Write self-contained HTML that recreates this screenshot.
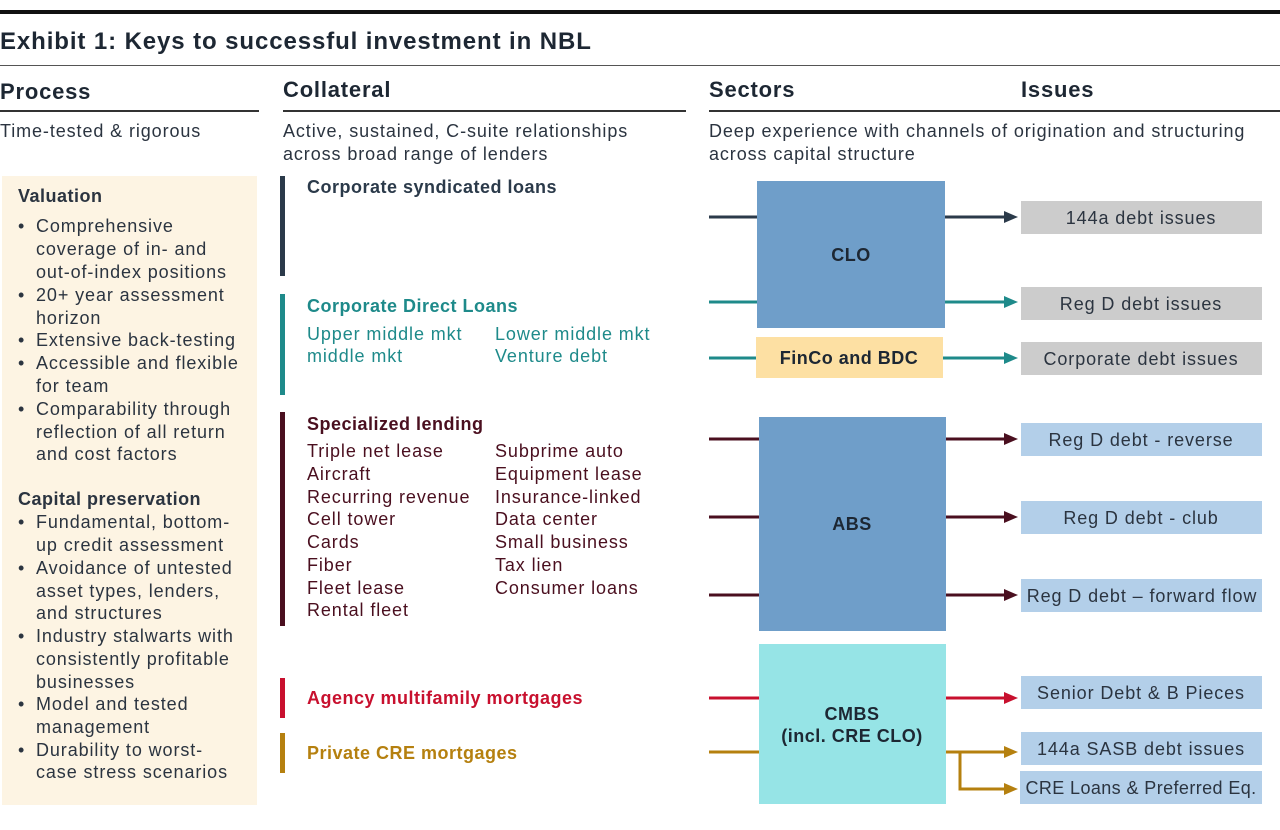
<!DOCTYPE html>
<html><head><meta charset="utf-8"><style>
body{margin:0;background:#fff}
svg{display:block;font-family:"Liberation Sans",sans-serif}
.b{font-weight:bold;letter-spacing:0.5px}
.r{font-size:18px;letter-spacing:0.9px}
</style></head><body>
<svg width="1280" height="830" xmlns="http://www.w3.org/2000/svg">
<rect x="0" y="10" width="1280" height="4" fill="#111"/>
<text x="0" y="49" font-size="24" font-weight="bold" letter-spacing="0.9" fill="#1d2733">Exhibit 1: Keys to successful investment in NBL</text>
<rect x="0" y="65" width="1280" height="1" fill="#555"/>
<g font-size="22" fill="#1d2733" font-weight="bold" letter-spacing="0.8">
<text x="0" y="99">Process</text><text x="283" y="97">Collateral</text><text x="709" y="97">Sectors</text><text x="1021" y="97">Issues</text></g>
<rect x="0" y="110" width="259" height="2" fill="#333"/>
<rect x="283" y="110" width="403" height="2" fill="#333"/>
<rect x="709" y="110" width="571" height="2" fill="#333"/>
<g class="r" fill="#2b3440">
<text x="0" y="137">Time-tested &amp; rigorous</text>
<text x="283" y="137">Active, sustained, C-suite relationships</text>
<text x="283" y="160">across broad range of lenders</text>
<text x="709" y="137">Deep experience with channels of origination and structuring</text>
<text x="709" y="160">across capital structure</text>
</g>
<rect x="2" y="176" width="255" height="629" fill="#fdf4e3"/>
<g class="r" fill="#2b3440">
<text x="18" y="202" class="b" font-size="18">Valuation</text>
<text x="18" y="232">•</text><text x="36" y="232">Comprehensive</text>
<text x="36" y="255">coverage of in- and</text>
<text x="36" y="278">out-of-index positions</text>
<text x="18" y="301">•</text><text x="36" y="301">20+ year assessment</text>
<text x="36" y="324">horizon</text>
<text x="18" y="346">•</text><text x="36" y="346">Extensive back-testing</text>
<text x="18" y="369">•</text><text x="36" y="369">Accessible and flexible</text>
<text x="36" y="392">for team</text>
<text x="18" y="415">•</text><text x="36" y="415">Comparability through</text>
<text x="36" y="438">reflection of all return</text>
<text x="36" y="460">and cost factors</text>
<text x="18" y="505" class="b" font-size="18">Capital preservation</text>
<text x="18" y="528">•</text><text x="36" y="528">Fundamental, bottom-</text>
<text x="36" y="551">up credit assessment</text>
<text x="18" y="574">•</text><text x="36" y="574">Avoidance of untested</text>
<text x="36" y="597">asset types, lenders,</text>
<text x="36" y="619">and structures</text>
<text x="18" y="642">•</text><text x="36" y="642">Industry stalwarts with</text>
<text x="36" y="665">consistently profitable</text>
<text x="36" y="688">businesses</text>
<text x="18" y="710">•</text><text x="36" y="710">Model and tested</text>
<text x="36" y="733">management</text>
<text x="18" y="756">•</text><text x="36" y="756">Durability to worst-</text>
<text x="36" y="778">case stress scenarios</text>
</g>
<rect x="280" y="176" width="5" height="100" fill="#2b3a4a"/>
<rect x="280" y="294" width="5" height="101" fill="#1e8a8a"/>
<rect x="280" y="412" width="5" height="214" fill="#4a0f1f"/>
<rect x="280" y="678" width="5" height="40" fill="#c8102e"/>
<rect x="280" y="733" width="5" height="40" fill="#b5800f"/>
<g class="r">
<text x="307" y="193" class="b" fill="#2b3a4a" font-size="18">Corporate syndicated loans</text>
<text x="307" y="312" class="b" fill="#1e8a8a" font-size="18">Corporate Direct Loans</text>
<g fill="#1e8a8a"><text x="307" y="340">Upper middle mkt</text><text x="495" y="340">Lower middle mkt</text>
<text x="307" y="362">middle mkt</text><text x="495" y="362">Venture debt</text></g>
<text x="307" y="430" class="b" fill="#4a0f1f" font-size="18">Specialized lending</text>
<g fill="#4a0f1f">
<text x="307" y="457">Triple net lease</text><text x="495" y="457">Subprime auto</text>
<text x="307" y="480">Aircraft</text><text x="495" y="480">Equipment lease</text>
<text x="307" y="503">Recurring revenue</text><text x="495" y="503">Insurance-linked</text>
<text x="307" y="525">Cell tower</text><text x="495" y="525">Data center</text>
<text x="307" y="548">Cards</text><text x="495" y="548">Small business</text>
<text x="307" y="571">Fiber</text><text x="495" y="571">Tax lien</text>
<text x="307" y="594">Fleet lease</text><text x="495" y="594">Consumer loans</text>
<text x="307" y="616">Rental fleet</text></g>
<text x="307" y="704" class="b" fill="#c8102e" font-size="18">Agency multifamily mortgages</text>
<text x="307" y="759" class="b" fill="#b5800f" font-size="18">Private CRE mortgages</text>
</g>
<rect x="757" y="181" width="188" height="147" fill="#6f9ec9"/>
<rect x="756" y="337" width="187" height="41" fill="#fde0a3"/>
<rect x="759" y="417" width="187" height="214" fill="#6f9ec9"/>
<rect x="759" y="644" width="187" height="160" fill="#96e4e6"/>
<g font-size="18" class="b" fill="#1d2733" text-anchor="middle">
<text x="851" y="261">CLO</text>
<text x="849" y="364">FinCo and BDC</text>
<text x="852" y="530">ABS</text>
<text x="852" y="720">CMBS</text>
<text x="852" y="742">(incl. CRE CLO)</text>
</g>
<g fill="#cccccc"><rect x="1021" y="201" width="241" height="33"/><rect x="1021" y="287" width="241" height="33"/><rect x="1021" y="342" width="241" height="33"/></g>
<g fill="#b3cfe9"><rect x="1021" y="423" width="241" height="33"/><rect x="1021" y="501" width="241" height="33"/><rect x="1021" y="579" width="241" height="33"/><rect x="1021" y="676" width="241" height="33"/><rect x="1021" y="732" width="241" height="33"/><rect x="1020" y="771" width="242" height="33"/></g>
<g class="r" fill="#2b3440" text-anchor="middle">
<text x="1141" y="224">144a debt issues</text>
<text x="1141" y="310">Reg D debt issues</text>
<text x="1141" y="365">Corporate debt issues</text>
<text x="1141" y="446">Reg D debt - reverse</text>
<text x="1141" y="524">Reg D debt - club</text>
<text x="1142" y="602">Reg D debt – forward flow</text>
<text x="1141" y="699">Senior Debt &amp; B Pieces</text>
<text x="1141" y="755">144a SASB debt issues</text>
<text x="1141" y="794" letter-spacing="0.4">CRE Loans &amp; Preferred Eq.</text>
</g>
<g stroke-width="3" fill="none">
<g stroke="#2b3a4a"><line x1="709" y1="217" x2="757" y2="217"/><line x1="945" y1="217" x2="1006" y2="217"/></g>
<g stroke="#1e8a8a"><line x1="709" y1="302" x2="757" y2="302"/><line x1="945" y1="302" x2="1006" y2="302"/><line x1="709" y1="358" x2="756" y2="358"/><line x1="943" y1="358" x2="1006" y2="358"/></g>
<g stroke="#4a0f1f"><line x1="709" y1="439" x2="759" y2="439"/><line x1="946" y1="439" x2="1006" y2="439"/><line x1="709" y1="517" x2="759" y2="517"/><line x1="946" y1="517" x2="1006" y2="517"/><line x1="709" y1="595" x2="759" y2="595"/><line x1="946" y1="595" x2="1006" y2="595"/></g>
<g stroke="#c8102e"><line x1="709" y1="698" x2="759" y2="698"/><line x1="946" y1="698" x2="1006" y2="698"/></g>
<g stroke="#b5800f"><line x1="709" y1="752" x2="759" y2="752"/><line x1="946" y1="752" x2="1006" y2="752"/><path d="M960 752V789H1006"/></g>
</g>
<g>
<path d="M1004 211L1018 217L1004 223z" fill="#2b3a4a"/>
<path d="M1004 296L1018 302L1004 308z" fill="#1e8a8a"/>
<path d="M1004 352L1018 358L1004 364z" fill="#1e8a8a"/>
<path d="M1004 433L1018 439L1004 445z" fill="#4a0f1f"/>
<path d="M1004 511L1018 517L1004 523z" fill="#4a0f1f"/>
<path d="M1004 589L1018 595L1004 601z" fill="#4a0f1f"/>
<path d="M1004 692L1018 698L1004 704z" fill="#c8102e"/>
<path d="M1004 746L1018 752L1004 758z" fill="#b5800f"/>
<path d="M1004 783L1018 789L1004 795z" fill="#b5800f"/>
</g>
</svg>
</body></html>
